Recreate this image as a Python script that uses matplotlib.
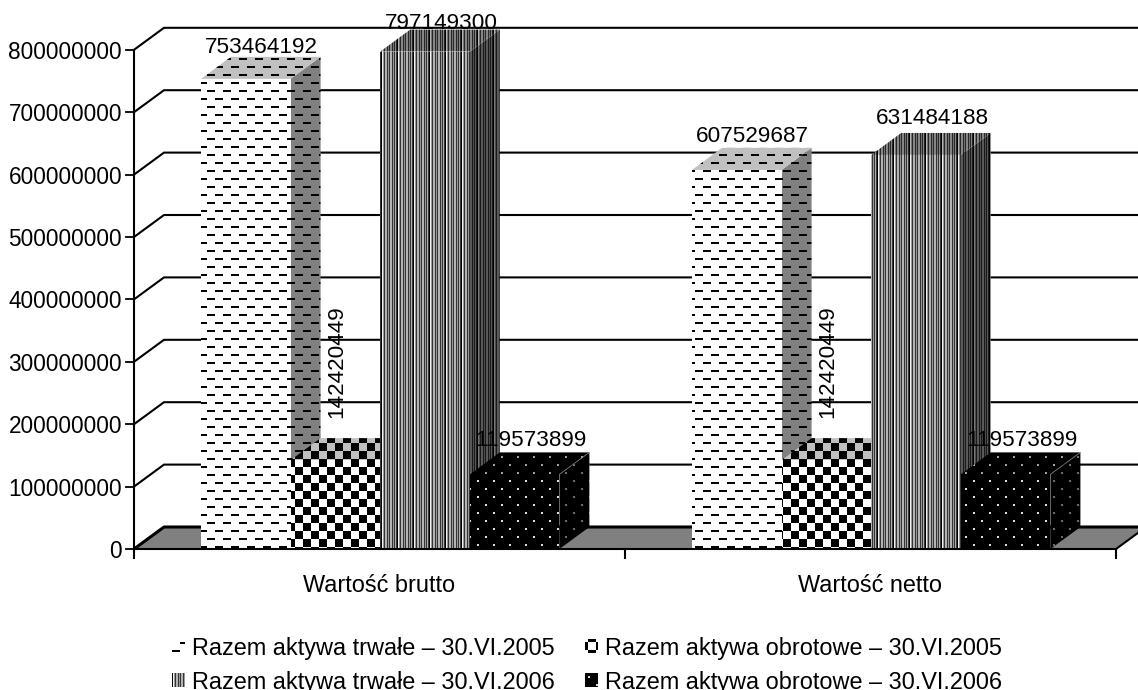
import numpy as np
import matplotlib
matplotlib.use('Agg')
import matplotlib.pyplot as plt
from matplotlib.patches import Polygon

categories = ['Wartość brutto', 'Wartość netto']
series_names = ['Razem aktywa trwałe – 30.VI.2005', 'Razem aktywa obrotowe – 30.VI.2005',
                'Razem aktywa trwałe – 30.VI.2006', 'Razem aktywa obrotowe – 30.VI.2006']
trwale_2005 = [753464192, 607529687]
obrotowe_2005 = [142420449, 142420449]
trwale_2006 = [797149300, 631484188]
obrotowe_2006 = [119573899, 119573899]
y_ticks = [0, 100000000, 200000000, 300000000, 400000000,
           500000000, 600000000, 700000000, 800000000]

W, H = 1138, 690
x0_px, y0_px = 134, 549
cat_px = 491.0
val_px = 62.4 / 1e8
depth_x = 30 / cat_px
depth_y = 22 / val_px
bar_w = 89.6 / cat_px
bar_start = 67 / cat_px
FONT = 'Liberation Sans'


def tile_dashes():
    t = np.ones((16, 16))
    t[0:2, 0:8] = 0
    t[8:10, 8:16] = 0
    return t


def tile_checks():
    t = np.ones((16, 16))
    t[0:8, 0:8] = 0
    t[8:16, 8:16] = 0
    return t


def tile_stripes():
    row = np.array([0, .95, .6, .2, .7, .7, .2, .6, .2, .7, .7, .2, .6, .2, .7, .2])
    return np.tile(row, (16, 1))


def tile_dots():
    t = np.zeros((16, 16))
    t[3:5, 3:5] = .85
    t[11:13, 11:13] = .85
    return t


tiles = [tile_dashes(), tile_checks(), tile_stripes(), tile_dots()]
tile_phase = [(2, 7), (3, 7), (0, 13), (13, 10)]
legend_phase = [(2, 4), (2, 4), (0, 12), (1, 9)]
# how far above the bar top each number sits (px), by [series][group]
label_lift = [[-1, 1], [20, 20], [-4, 4], [1, 1]]


def full_pattern(i, light, phase):
    # tile over the whole figure, white parts go to "light" grey
    py, px = phase
    t = np.roll(np.roll(tiles[i], px, axis=1), py, axis=0)
    img = np.tile(t, (H // 16 + 1, W // 16 + 1))[:H, :W]
    return img * light


fig = plt.figure(figsize=(W / 100, H / 100), dpi=100)
ax = fig.add_axes([0, 0, 1, 1])
xlim = (-x0_px / cat_px, (W - x0_px) / cat_px)
ylim = (-(H - y0_px) / val_px, y0_px / val_px)
ax.axis('off')


def face(points, i, light, phase=None):
    phase = tile_phase[i] if phase is None else phase
    im = ax.imshow(full_pattern(i, light, phase), cmap='gray', vmin=0, vmax=1, aspect='auto',
                   extent=(xlim[0], xlim[1], ylim[0], ylim[1]), origin='upper',
                   interpolation='nearest', zorder=3)
    im.set_clip_path(Polygon(points, closed=True, transform=ax.transData))


# floor
right_end = (1116 - x0_px) / cat_px
ax.add_patch(Polygon([(0, 0), (depth_x, depth_y), (right_end + depth_x, depth_y), (right_end, 0)],
                     closed=True, fc='#808080', ec='none', zorder=1))

# back wall grid
for v in y_ticks:
    lw = 2.2 if v == 0 else 1.5
    ax.plot([0, depth_x, xlim[1]], [v, v + depth_y, v + depth_y],
            color='black', lw=lw, zorder=2, solid_capstyle='butt')
    ax.plot([-8 / cat_px, 0], [v, v], color='black', lw=1.3, zorder=2)
    ax.text(-12 / cat_px, v - 2.5 / val_px, str(v), ha='right', va='center', fontsize=16.3,
            family=FONT, color='black')
ax.plot([right_end, right_end + depth_x], [0, depth_y], color='black', lw=1.5, zorder=2)

# axes lines
ax.plot([0, 0], [0, y_ticks[-1]], color='black', lw=1.5, zorder=5)
ax.plot([0, right_end], [0, 0], color='black', lw=1.5, zorder=5)
for k in range(len(categories) + 1):
    ax.plot([k, k], [0, -9 / val_px], color='black', lw=1.5, zorder=5)

# bars, left to right so that each one covers the side of the one before
series = [trwale_2005, obrotowe_2005, trwale_2006, obrotowe_2006]
for g, cat in enumerate(categories):
    for s, vals in enumerate(series):
        v = vals[g]
        x1 = g + bar_start + s * bar_w
        x2 = x1 + bar_w
        face([(x2, 0), (x2 + depth_x, depth_y), (x2 + depth_x, v + depth_y), (x2, v)], s, 0.5)
        face([(x1, v), (x1 + depth_x, v + depth_y), (x2 + depth_x, v + depth_y), (x2, v)], s, 0.75)
        face([(x1, 0), (x2, 0), (x2, v), (x1, v)], s, 1.0)
        if s == 3:
            ax.plot([x2, x2 + depth_x], [v, v + depth_y], color='#808080', lw=0.5, zorder=4)
        xc = (x1 + x2) / 2 + depth_x / 2
        lift = label_lift[s][g] / val_px
        if s == 1:
            ax.text(xc - 14 / cat_px, v + depth_y + lift, str(v), rotation=90, ha='center',
                    va='bottom', fontsize=16.2, family=FONT, zorder=6)
        else:
            ax.text(xc + 1 / cat_px, v + depth_y + lift, str(v), ha='center', va='bottom', fontsize=16.2,
                    family=FONT, zorder=6)
    ax.text(g + 0.5, -36.5 / val_px, cat, ha='center', va='center', fontsize=16.9, family=FONT)

# legend
legend_pos = [(172, 646), (585, 646), (172, 680), (585, 680)]
for s, name in enumerate(series_names):
    px, py = legend_pos[s]
    x1 = (px - x0_px) / cat_px
    x2 = x1 + 13 / cat_px
    y1 = (y0_px - py - 7) / val_px
    y2 = (y0_px - py + 7) / val_px
    face([(x1, y1), (x2, y1), (x2, y2), (x1, y2)], s, 1.0, legend_phase[s])
    ax.text(x2 + 7 / cat_px, (y0_px - py - 2) / val_px, name, ha='left', va='center', fontsize=16.9,
            family=FONT)

ax.set_xlim(xlim)
ax.set_ylim(ylim)
fig.savefig('out.png', dpi=100)
